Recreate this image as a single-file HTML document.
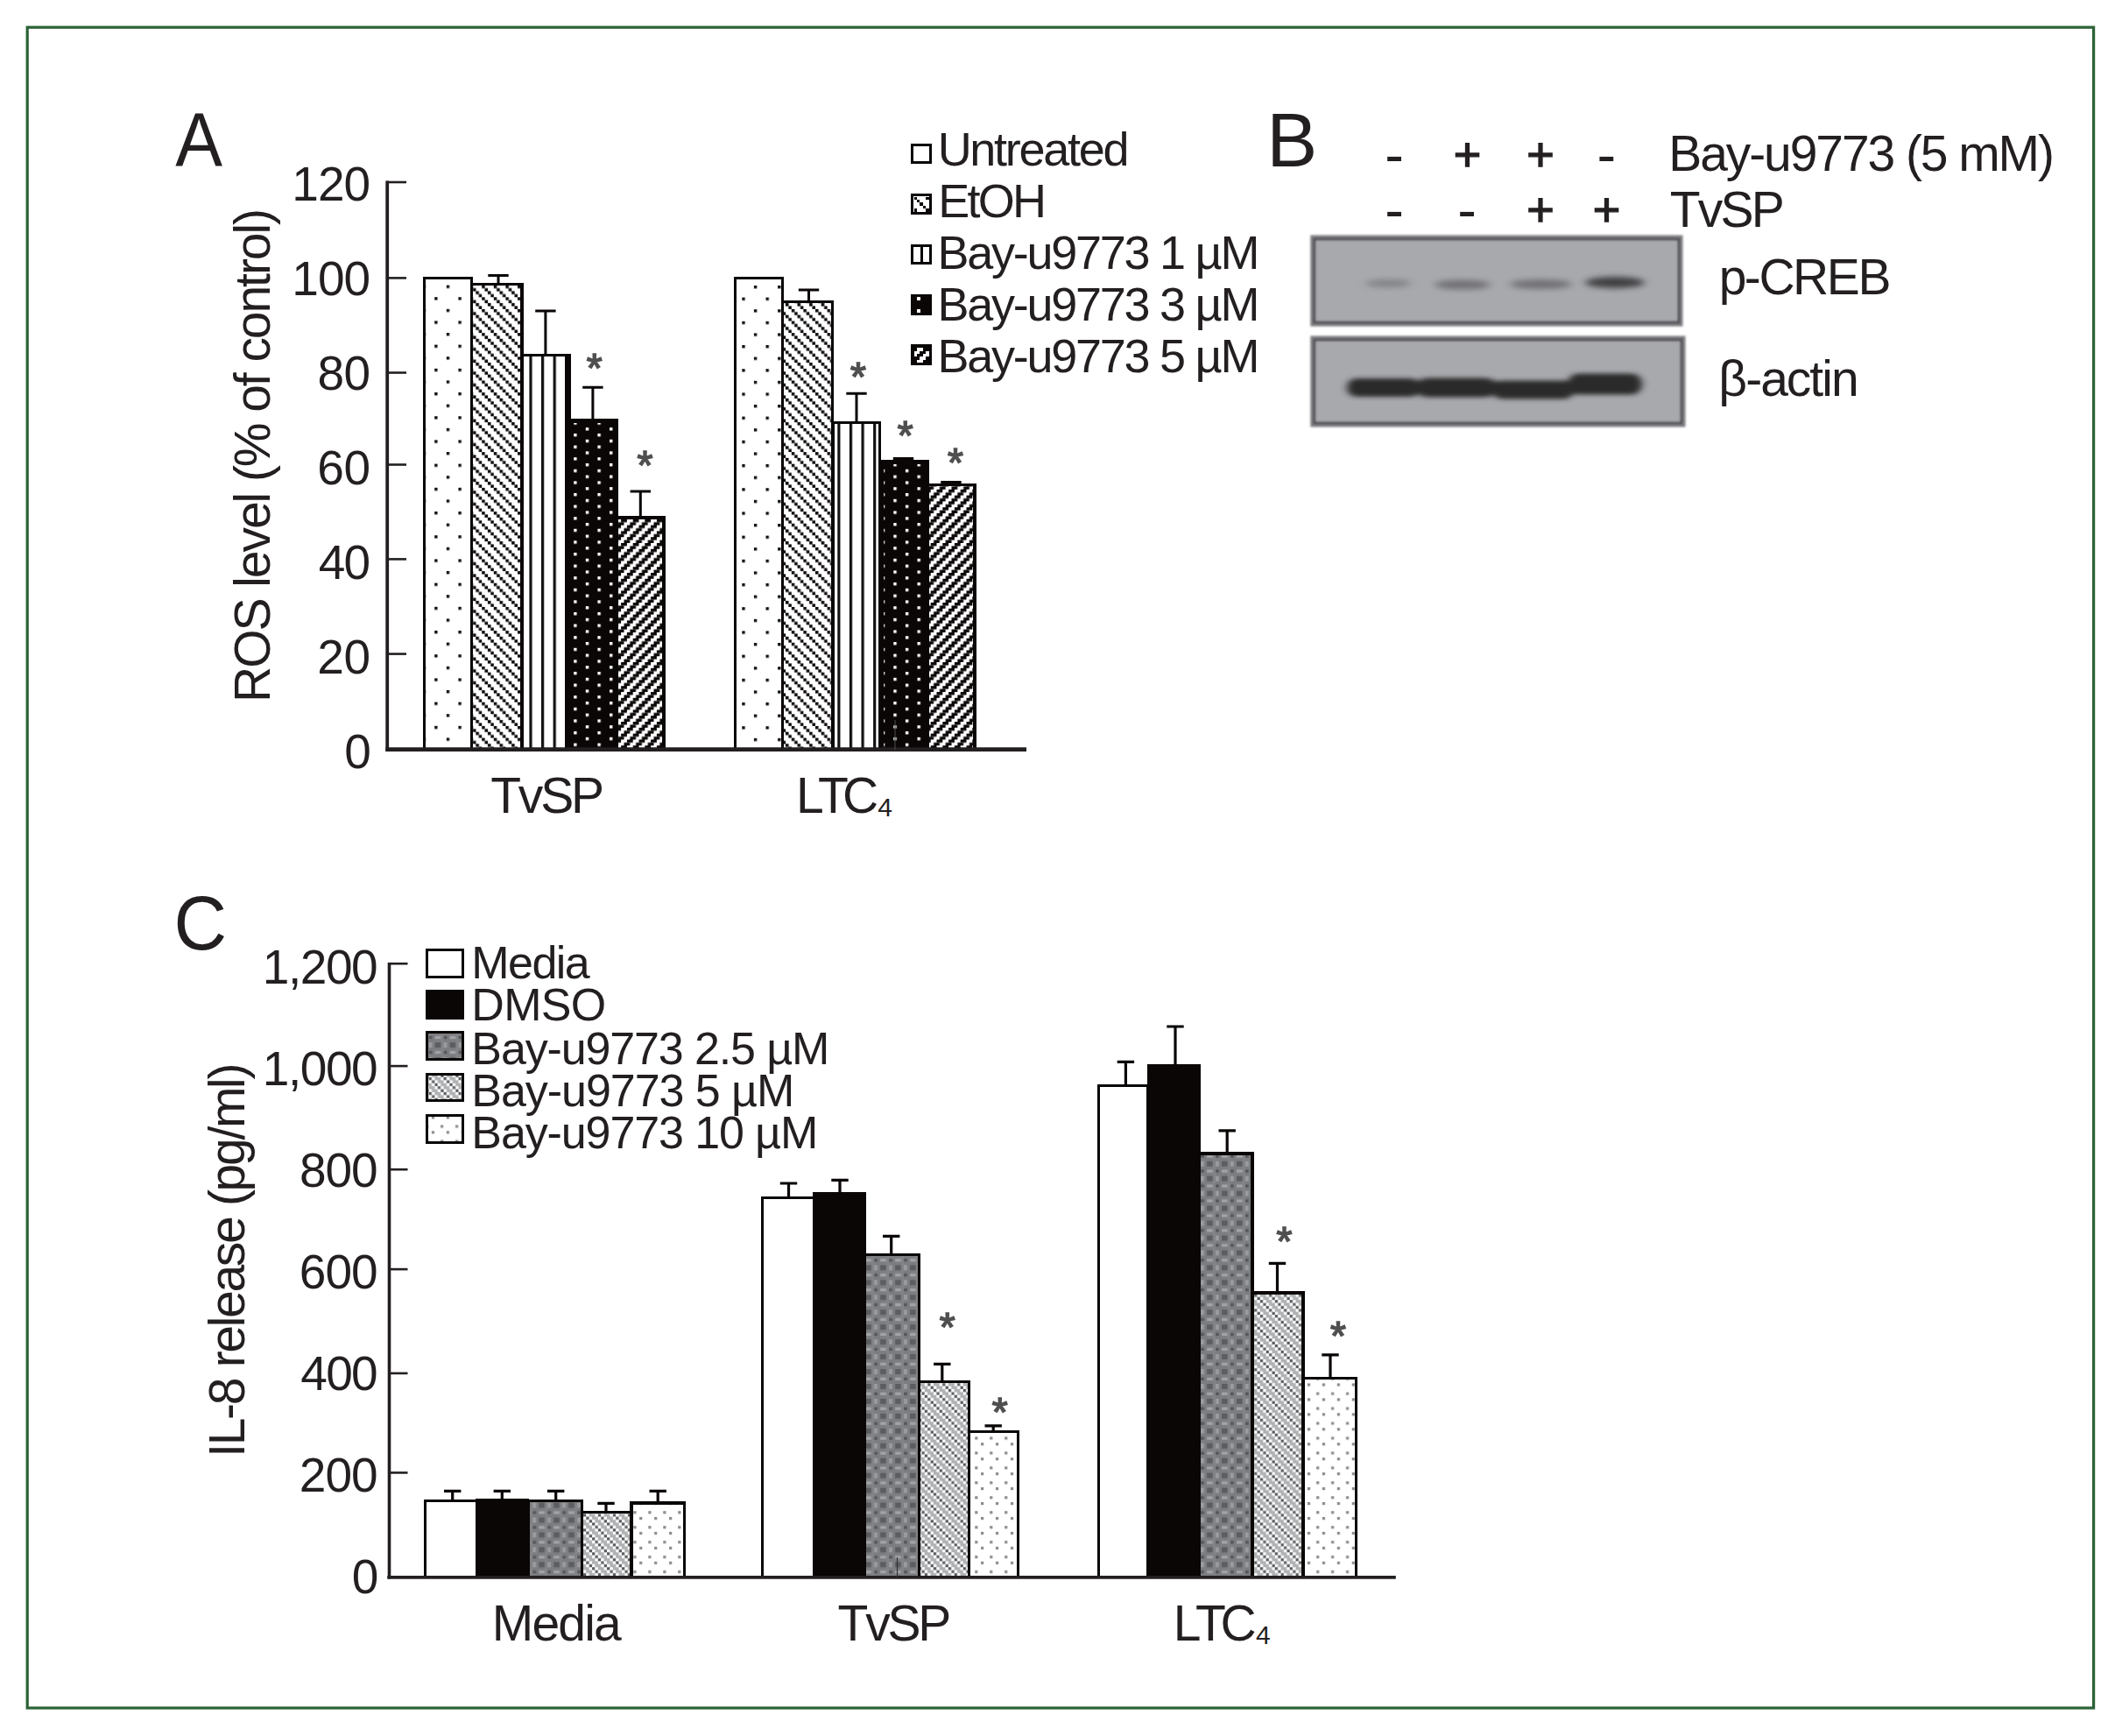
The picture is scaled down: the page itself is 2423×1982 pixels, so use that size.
<!DOCTYPE html>
<html lang="en"><head><meta charset="utf-8"><title>Figure</title>
<style>
html,body{margin:0;padding:0;background:#fff;}
svg{display:block;}
text{font-family:"Liberation Sans",Arial,Helvetica,sans-serif;font-kerning:none;white-space:pre;}
</style></head><body>
<svg width="2423" height="1982" viewBox="0 0 2423 1982">
<rect width="2423" height="1982" fill="#fff"/>

<defs>
<pattern id="pDot" patternUnits="userSpaceOnUse" width="27.200" height="27.200" patternTransform="translate(496.2 339.2)">
 <rect width="27.200" height="27.200" fill="#fff"/>
 <rect x="0" y="0" width="3.4" height="3.4" fill="#111"/>
 <rect x="13.600" y="13.600" width="3.4" height="3.4" fill="#111"/>
 <rect x="13.600" y="-13.600" width="3.4" height="3.4" fill="#111"/>
</pattern>
<pattern id="pDown" patternUnits="userSpaceOnUse" width="13.600" height="13.600" patternTransform="translate(550.2 325.7)">
 <rect width="13.600" height="13.600" fill="#fff"/>
 <rect x="-0.100" y="-0.100" width="3.600" height="3.600" fill="#0d0909"/><rect x="3.300" y="3.300" width="3.600" height="3.600" fill="#0d0909"/><rect x="6.700" y="6.700" width="3.600" height="3.600" fill="#0d0909"/><rect x="10.100" y="10.100" width="3.600" height="3.600" fill="#0d0909"/>
</pattern>
<pattern id="pVert" patternUnits="userSpaceOnUse" width="13.600" height="20" patternTransform="translate(604.4 0)">
 <rect width="13.600" height="20" fill="#fff"/>
 <rect x="0" y="0" width="3.2" height="20" fill="#111"/>
</pattern>
<pattern id="pBlkDot" patternUnits="userSpaceOnUse" width="27.200" height="13.600" patternTransform="translate(655.2 481.35)">
 <rect width="27.200" height="13.600" fill="#0a0606"/>
 <rect x="0" y="0" width="3.4" height="3.4" fill="#fff"/>
 <rect x="13.600" y="6.800" width="3.4" height="3.4" fill="#fff"/>
</pattern>
<pattern id="pUp" patternUnits="userSpaceOnUse" width="13.600" height="13.600" patternTransform="translate(709.1 592.8)">
 <rect width="13.600" height="13.600" fill="#fff"/>
 <rect x="0" y="0" width="6.800" height="3.450" fill="#0d0909"/>
 <rect x="10.200" y="3.400" width="3.400" height="3.450" fill="#0d0909"/><rect x="0" y="3.400" width="3.400" height="3.450" fill="#0d0909"/>
 <rect x="6.800" y="6.800" width="6.800" height="3.450" fill="#0d0909"/>
 <rect x="3.400" y="10.200" width="6.800" height="3.450" fill="#0d0909"/>
</pattern>
<pattern id="cChk" patternUnits="userSpaceOnUse" width="16.950" height="16.950" patternTransform="translate(1378.1 1512.2)">
 <rect width="16.950" height="16.950" fill="#7c7d80"/>
 <rect x="6.6" y="0" width="3.4" height="16.950" fill="#828386"/>
 <rect x="0" y="0" width="6.6" height="5.9" fill="#5c5d60"/>
 <rect x="10" y="0" width="3.7" height="5.9" fill="#9b9c9f"/>
 <rect x="0" y="9.6" width="6.6" height="3.4" fill="#a1a3a6"/>
 <rect x="10" y="9.6" width="3.7" height="3.4" fill="#55575a"/>
</pattern>
<pattern id="cHat" patternUnits="userSpaceOnUse" width="16.950" height="16.950" patternTransform="translate(1438.8 1501.1)">
 <rect width="16.950" height="16.950" fill="#b0b1b3"/>
 <rect x="0.000" y="0.000" width="3.390" height="3.390" fill="#585a5d"/><rect x="3.390" y="3.390" width="3.390" height="3.390" fill="#585a5d"/><rect x="6.780" y="6.780" width="3.390" height="3.390" fill="#585a5d"/><rect x="10.170" y="10.170" width="3.390" height="3.390" fill="#585a5d"/><rect x="13.560" y="13.560" width="3.390" height="3.390" fill="#585a5d"/>
 <rect x="3.390" y="0.000" width="3.390" height="3.390" fill="#fdfdfd"/><rect x="6.780" y="3.390" width="3.390" height="3.390" fill="#fdfdfd"/><rect x="10.170" y="6.780" width="3.390" height="3.390" fill="#fdfdfd"/><rect x="13.560" y="10.170" width="3.390" height="3.390" fill="#fdfdfd"/><rect x="0.000" y="13.560" width="3.390" height="3.390" fill="#fdfdfd"/>
 <rect x="13.560" y="0.000" width="3.390" height="3.390" fill="#fdfdfd"/><rect x="0.000" y="3.390" width="3.390" height="3.390" fill="#fdfdfd"/><rect x="3.390" y="6.780" width="3.390" height="3.390" fill="#fdfdfd"/><rect x="6.780" y="10.170" width="3.390" height="3.390" fill="#fdfdfd"/><rect x="10.170" y="13.560" width="3.390" height="3.390" fill="#fdfdfd"/>
</pattern>
<pattern id="cDot" patternUnits="userSpaceOnUse" width="16.950" height="16.950" patternTransform="translate(1492.9 1579.4)">
 <rect width="16.950" height="16.950" fill="#fff"/>
 <rect x="0" y="0" width="3.2" height="3.2" fill="#8c8c8e"/>
 <rect x="10.170" y="10.170" width="3.2" height="3.2" fill="#8c8c8e"/>
</pattern>
<pattern id="pDot2" patternUnits="userSpaceOnUse" width="27.200" height="27.200" patternTransform="translate(847.3 339.6)">
 <rect width="27.200" height="27.200" fill="#fff"/>
 <rect x="0" y="0" width="3.4" height="3.4" fill="#111"/>
 <rect x="13.600" y="13.600" width="3.4" height="3.4" fill="#111"/>
 <rect x="13.600" y="-13.600" width="3.4" height="3.4" fill="#111"/>
</pattern>
<pattern id="pVert2" patternUnits="userSpaceOnUse" width="13.600" height="20" patternTransform="translate(956.3 0)">
 <rect width="13.600" height="20" fill="#fff"/>
 <rect x="0" y="0" width="3.2" height="20" fill="#111"/>
</pattern>
<pattern id="pBlkDot2" patternUnits="userSpaceOnUse" width="27.200" height="13.600" patternTransform="translate(1020.3 529.0)">
 <rect width="27.200" height="13.600" fill="#0a0606"/>
 <rect x="0" y="0" width="3.4" height="3.4" fill="#fff"/>
 <rect x="13.600" y="6.800" width="3.4" height="3.4" fill="#fff"/>
</pattern>
<filter id="blur1" x="-20%" y="-50%" width="140%" height="200%"><feGaussianBlur stdDeviation="5 3"/></filter>
<filter id="blur2" x="-20%" y="-50%" width="140%" height="200%"><feGaussianBlur stdDeviation="4 2.5"/></filter>
<filter id="blurS" x="-30%" y="-30%" width="160%" height="160%"><feGaussianBlur stdDeviation="0.7"/></filter>
<filter id="blurB" x="-5%" y="-5%" width="110%" height="110%"><feGaussianBlur stdDeviation="0.8"/></filter>
</defs>

<rect x="31.2" y="31.2" width="2359.4" height="1918.8" fill="none" stroke="#2b6236" stroke-width="3.2"/>
<g shape-rendering="crispEdges">
<rect x="484.40" y="317.40" width="54.10" height="538.00" fill="url(#pDot)" stroke="#0a0606" stroke-width="3.2"/>
<rect x="538.50" y="324.60" width="57.50" height="530.80" fill="url(#pDown)" stroke="#0a0606" stroke-width="3.2"/>
<rect x="596.00" y="405.50" width="51.10" height="449.90" fill="url(#pVert)" stroke="#0a0606" stroke-width="3.2"/>
<rect x="647.10" y="479.60" width="57.10" height="375.80" fill="url(#pBlkDot)" stroke="#0a0606" stroke-width="3.2"/>
<rect x="704.20" y="591.00" width="53.80" height="264.40" fill="url(#pUp)" stroke="#0a0606" stroke-width="3.2"/>
<rect x="645.5" y="403.90" width="6" height="76.10" fill="#0a0606"/>
<rect x="645.50" y="478.00" width="60.30" height="5" fill="#0a0606"/>
<rect x="645.50" y="478.00" width="6" height="377.80" fill="#0a0606"/>
<rect x="700.20" y="478.00" width="5.6" height="377.80" fill="#0a0606"/>
<rect x="839.30" y="317.40" width="54.00" height="538.00" fill="url(#pDot2)" stroke="#0a0606" stroke-width="3.2"/>
<rect x="893.30" y="344.60" width="57.60" height="510.80" fill="url(#pDown)" stroke="#0a0606" stroke-width="3.2"/>
<rect x="950.90" y="482.80" width="53.60" height="372.60" fill="url(#pVert2)" stroke="#0a0606" stroke-width="3.2"/>
<rect x="1004.50" y="526.60" width="54.60" height="328.80" fill="url(#pBlkDot2)" stroke="#0a0606" stroke-width="3.2"/>
<rect x="1059.10" y="553.50" width="53.90" height="301.90" fill="url(#pUp)" stroke="#0a0606" stroke-width="3.2"/>
<rect x="1002.90" y="525.00" width="57.80" height="5" fill="#0a0606"/>
<rect x="1002.90" y="525.00" width="6" height="330.80" fill="#0a0606"/>
<rect x="1055.10" y="525.00" width="5.6" height="330.80" fill="#0a0606"/>
</g>
<path d="M557.30 314.40H580.70M569.00 314.40V323.00" stroke="#0a0606" stroke-width="3.0" fill="none"/>
<path d="M611.20 354.90H634.60M622.90 354.90V404.00" stroke="#0a0606" stroke-width="3.0" fill="none"/>
<path d="M665.20 442.20H688.60M676.90 442.20V478.00" stroke="#0a0606" stroke-width="3.0" fill="none"/>
<path d="M719.60 560.90H743.00M731.30 560.90V590.00" stroke="#0a0606" stroke-width="3.0" fill="none"/>
<path d="M911.80 331.00H935.20M923.50 331.00V343.00" stroke="#0a0606" stroke-width="3.0" fill="none"/>
<path d="M966.30 449.20H989.70M978.00 449.20V481.00" stroke="#0a0606" stroke-width="3.0" fill="none"/>
<path d="M1019.80 523.60H1043.20M1031.50 523.60V525.00" stroke="#0a0606" stroke-width="3.0" fill="none"/>
<path d="M1074.30 550.50H1097.70M1086.00 550.50V552.00" stroke="#0a0606" stroke-width="3.0" fill="none"/>
<path d="M442.2 206.5V857.7" stroke="#231f20" stroke-width="3.8" fill="none"/>
<path d="M440.3 855.6H1172" stroke="#231f20" stroke-width="4.6" fill="none"/>
<path d="M441 746.60H464" stroke="#231f20" stroke-width="2.6" fill="none"/>
<path d="M441 638.40H464" stroke="#231f20" stroke-width="2.6" fill="none"/>
<path d="M441 530.50H464" stroke="#231f20" stroke-width="2.6" fill="none"/>
<path d="M441 425.50H464" stroke="#231f20" stroke-width="2.6" fill="none"/>
<path d="M441 317.40H464" stroke="#231f20" stroke-width="2.6" fill="none"/>
<path d="M441 208.00H464" stroke="#231f20" stroke-width="2.6" fill="none"/>
<path d="M1022 822V856" stroke="#444" stroke-width="1.2" fill="none"/>
<text x="393.15" y="876.63" font-size="55" letter-spacing="0.000" fill="#231f20" >0</text>
<text x="362.23" y="768.68" font-size="55" letter-spacing="-0.262" fill="#231f20" >20</text>
<text x="363.74" y="660.73" font-size="55" letter-spacing="-1.766" fill="#231f20" >40</text>
<text x="362.21" y="552.78" font-size="55" letter-spacing="-0.235" fill="#231f20" >60</text>
<text x="362.61" y="444.83" font-size="55" letter-spacing="-0.638" fill="#231f20" >80</text>
<text x="333.31" y="336.88" font-size="55" letter-spacing="-0.964" fill="#231f20" >100</text>
<text x="333.31" y="228.93" font-size="55" letter-spacing="-0.964" fill="#231f20" >120</text>
<text transform="rotate(-90)" x="-801.88" y="308.00" font-size="57" letter-spacing="-2.063" fill="#231f20">ROS level (% of control)</text>
<text x="560.22" y="928.40" font-size="57" letter-spacing="-3.190" fill="#231f20" >TvSP</text>
<text x="909.02" y="928.40" font-size="57" letter-spacing="-6.768" fill="#231f20" >LTC</text>
<text x="1002.31" y="931.60" font-size="30" letter-spacing="0.000" fill="#231f20" >4</text>
<g shape-rendering="crispEdges">
<rect x="1041.70" y="165.40" width="20.70" height="20.40" fill="#fff" stroke="#0a0606" stroke-width="3.2"/>
<rect x="1041.70" y="222.80" width="20.70" height="20.40" fill="#fff" stroke="#0a0606" stroke-width="3.2"/>
<rect x="1041.70" y="280.30" width="20.70" height="20.40" fill="#fff" stroke="#0a0606" stroke-width="3.2"/>
<rect x="1041.70" y="337.50" width="20.70" height="20.40" fill="#fff" stroke="#0a0606" stroke-width="3.2"/>
<rect x="1041.70" y="394.90" width="20.70" height="20.40" fill="#fff" stroke="#0a0606" stroke-width="3.2"/>
<rect x="1043.50" y="224.50" width="3.40" height="3.40" fill="#0a0606"/>
<rect x="1046.90" y="227.90" width="3.40" height="3.40" fill="#0a0606"/>
<rect x="1050.30" y="231.30" width="3.40" height="3.40" fill="#0a0606"/>
<rect x="1053.70" y="234.70" width="3.40" height="3.40" fill="#0a0606"/>
<rect x="1057.10" y="238.10" width="3.40" height="3.40" fill="#0a0606"/>
<rect x="1057.10" y="224.50" width="3.40" height="3.40" fill="#0a0606"/>
<rect x="1043.50" y="238.10" width="3.40" height="3.40" fill="#0a0606"/>
<rect x="1050.50" y="278.70" width="3.3" height="23.4" fill="#0a0606"/>
<rect x="1040.1" y="335.9" width="23.90000000000009" height="23.7" fill="#0a0606"/>
<rect x="1046.9" y="339.4" width="3.6" height="3.6" fill="#fff"/><rect x="1046.9" y="353.1" width="3.6" height="3.6" fill="#fff"/>
<rect x="1040.1" y="393.3" width="23.90000000000009" height="23.8" fill="#0a0606"/>
<rect x="1047.00" y="397.20" width="3.40" height="3.40" fill="#fff"/>
<rect x="1050.40" y="397.20" width="3.40" height="3.40" fill="#fff"/>
<rect x="1043.60" y="400.60" width="3.40" height="3.40" fill="#fff"/>
<rect x="1047.00" y="400.60" width="3.40" height="3.40" fill="#fff"/>
<rect x="1057.20" y="400.60" width="3.40" height="3.40" fill="#fff"/>
<rect x="1043.60" y="404.00" width="3.40" height="3.40" fill="#fff"/>
<rect x="1053.80" y="404.00" width="3.40" height="3.40" fill="#fff"/>
<rect x="1057.20" y="404.00" width="3.40" height="3.40" fill="#fff"/>
<rect x="1050.40" y="407.40" width="3.40" height="3.40" fill="#fff"/>
<rect x="1053.80" y="407.40" width="3.40" height="3.40" fill="#fff"/>
<rect x="1047.00" y="410.80" width="3.40" height="3.40" fill="#fff"/>
<rect x="1050.40" y="410.80" width="3.40" height="3.40" fill="#fff"/>
</g>
<text x="1070.63" y="188.70" font-size="54" letter-spacing="-2.287" fill="#231f20" >Untreated</text>
<text x="1071.17" y="247.60" font-size="54" letter-spacing="-2.729" fill="#231f20" >EtOH</text>
<text x="1070.57" y="306.90" font-size="54" letter-spacing="-2.267" fill="#231f20" >Bay-u9773 1 µM</text>
<text x="1070.57" y="365.70" font-size="54" letter-spacing="-2.267" fill="#231f20" >Bay-u9773 3 µM</text>
<text x="1070.57" y="425.00" font-size="54" letter-spacing="-2.267" fill="#231f20" >Bay-u9773 5 µM</text>
<text x="669.84" y="435.92" font-size="46" fill="#505050" filter="url(#blurS)" stroke="#505050" stroke-width="1.6">*</text>
<text x="727.54" y="546.87" font-size="46" fill="#505050" filter="url(#blurS)" stroke="#505050" stroke-width="1.6">*</text>
<text x="971.04" y="446.07" font-size="46" fill="#505050" filter="url(#blurS)" stroke="#505050" stroke-width="1.6">*</text>
<text x="1024.74" y="513.07" font-size="46" fill="#505050" filter="url(#blurS)" stroke="#505050" stroke-width="1.6">*</text>
<text x="1082.04" y="543.57" font-size="46" fill="#505050" filter="url(#blurS)" stroke="#505050" stroke-width="1.6">*</text>
<text x="200.2" y="190" font-size="87" fill="#231f20" textLength="53.8" lengthAdjust="spacingAndGlyphs">A</text>
<text x="1446.16" y="190.00" font-size="87" letter-spacing="0.000" fill="#231f20" >B</text>
<text x="198.5" y="1084.1" font-size="87" fill="#231f20" textLength="60.6" lengthAdjust="spacingAndGlyphs">C</text>
<text x="1659.75" y="194.66" font-size="54" fill="#231f20" stroke="#231f20" stroke-width="1.4">+</text>
<text x="1743.25" y="194.66" font-size="54" fill="#231f20" stroke="#231f20" stroke-width="1.4">+</text>
<text x="1743.25" y="257.56" font-size="54" fill="#231f20" stroke="#231f20" stroke-width="1.4">+</text>
<text x="1818.75" y="257.56" font-size="54" fill="#231f20" stroke="#231f20" stroke-width="1.4">+</text>
<text x="1581.18" y="198.77" font-size="65" fill="#231f20" >-</text>
<text x="1823.38" y="198.77" font-size="65" fill="#231f20" >-</text>
<text x="1581.18" y="261.67" font-size="65" fill="#231f20" >-</text>
<text x="1664.18" y="261.67" font-size="65" fill="#231f20" >-</text>
<text x="1905.22" y="195.40" font-size="57" letter-spacing="-2.086" fill="#231f20" >Bay-u9773 (5 mM)</text>
<text x="1906.82" y="258.80" font-size="57" letter-spacing="-2.790" fill="#231f20" >TvSP</text>
<text x="1962.63" y="335.90" font-size="57" letter-spacing="-2.453" fill="#231f20" >p-CREB</text>
<text x="1962.35" y="451.70" font-size="57" letter-spacing="-1.986" fill="#231f20" >β-actin</text>
<g filter="url(#blurB)"><rect x="1497.8" y="270.0" width="422.20000000000005" height="101.10000000000002" fill="#a8a9ad" stroke="#7d7d82" stroke-width="3"/><rect x="1500.8" y="273.0" width="416.20000000000005" height="95.10000000000002" fill="none" stroke="#505053" stroke-width="3"/></g>
<g filter="url(#blurB)"><rect x="1497.8" y="385.0" width="425.20000000000005" height="101.0" fill="#a8a9ad" stroke="#7d7d82" stroke-width="3"/><rect x="1500.8" y="388.0" width="419.20000000000005" height="95.0" fill="none" stroke="#505053" stroke-width="3"/></g>
<ellipse cx="1585.25" cy="323.5" rx="26.25" ry="4.5" fill="#77777b" opacity="0.75" filter="url(#blur1)"/>
<ellipse cx="1670.0" cy="325" rx="32.0" ry="5.5" fill="#68686c" opacity="0.85" filter="url(#blur1)"/>
<ellipse cx="1759.5" cy="324.5" rx="35.5" ry="5.5" fill="#68686c" opacity="0.85" filter="url(#blur1)"/>
<ellipse cx="1844.0" cy="322.5" rx="34.0" ry="6.5" fill="#3a3a3d" opacity="0.95" filter="url(#blur1)"/>
<g filter="url(#blur2)" fill="#29292b">
<rect x="1538" y="432.0" width="84" height="21" rx="10.5" ry="10.5"/>
<rect x="1618" y="431.5" width="90" height="22" rx="11.0" ry="11.0"/>
<rect x="1704" y="434.5" width="93" height="21" rx="10.5" ry="10.5"/>
<rect x="1790" y="426.5" width="85" height="24" rx="12.0" ry="12.0"/>
<rect x="1560" y="435" width="290" height="15"/>
</g>
<g shape-rendering="crispEdges">
<rect x="485.50" y="1713.40" width="58.70" height="87.20" fill="#fff" stroke="#0a0606" stroke-width="3.3"/>
<rect x="543.20" y="1711.00" width="60.90" height="90.60" fill="#0a0606"/>
<rect x="602.95" y="1713.60" width="61.55" height="87.00" fill="url(#cChk)" stroke="#0a0606" stroke-width="3.3"/>
<rect x="664.50" y="1726.50" width="56.50" height="74.10" fill="url(#cHat)" stroke="#0a0606" stroke-width="3.3"/>
<rect x="721.00" y="1716.00" width="60.70" height="84.60" fill="url(#cDot)" stroke="#0a0606" stroke-width="3.3"/>
<rect x="870.30" y="1367.80" width="59.00" height="432.80" fill="#fff" stroke="#0a0606" stroke-width="3.3"/>
<rect x="928.30" y="1360.50" width="60.20" height="441.10" fill="#0a0606"/>
<rect x="987.35" y="1432.60" width="62.15" height="368.00" fill="url(#cChk)" stroke="#0a0606" stroke-width="3.3"/>
<rect x="1049.50" y="1577.60" width="57.20" height="223.00" fill="url(#cHat)" stroke="#0a0606" stroke-width="3.3"/>
<rect x="1106.70" y="1634.30" width="56.10" height="166.30" fill="url(#cDot)" stroke="#0a0606" stroke-width="3.3"/>
<rect x="1254.80" y="1239.60" width="56.00" height="561.00" fill="#fff" stroke="#0a0606" stroke-width="3.3"/>
<rect x="1309.80" y="1214.60" width="61.10" height="587.00" fill="#0a0606"/>
<rect x="1369.75" y="1316.90" width="60.35" height="483.70" fill="url(#cChk)" stroke="#0a0606" stroke-width="3.3"/>
<rect x="1430.10" y="1476.00" width="57.80" height="324.60" fill="url(#cHat)" stroke="#0a0606" stroke-width="3.3"/>
<rect x="1487.90" y="1573.60" width="60.60" height="227.00" fill="url(#cDot)" stroke="#0a0606" stroke-width="3.3"/>
</g>
<path d="M507.00 1702.40H526.40M516.70 1702.40V1713.00" stroke="#0a0606" stroke-width="3.2" fill="none"/>
<path d="M563.60 1702.40H583.00M573.30 1702.40V1712.00" stroke="#0a0606" stroke-width="3.2" fill="none"/>
<path d="M625.00 1702.40H644.40M634.70 1702.40V1713.00" stroke="#0a0606" stroke-width="3.2" fill="none"/>
<path d="M682.30 1716.40H701.70M692.00 1716.40V1726.00" stroke="#0a0606" stroke-width="3.2" fill="none"/>
<path d="M741.50 1702.40H760.90M751.20 1702.40V1715.00" stroke="#0a0606" stroke-width="3.2" fill="none"/>
<path d="M890.80 1351.00H910.20M900.50 1351.00V1367.00" stroke="#0a0606" stroke-width="3.2" fill="none"/>
<path d="M949.30 1347.40H968.70M959.00 1347.40V1361.00" stroke="#0a0606" stroke-width="3.2" fill="none"/>
<path d="M1008.00 1411.40H1027.40M1017.70 1411.40V1432.00" stroke="#0a0606" stroke-width="3.2" fill="none"/>
<path d="M1066.10 1557.30H1085.50M1075.80 1557.30V1577.00" stroke="#0a0606" stroke-width="3.2" fill="none"/>
<path d="M1124.50 1627.80H1143.90M1134.20 1627.80V1634.00" stroke="#0a0606" stroke-width="3.2" fill="none"/>
<path d="M1275.70 1212.40H1295.10M1285.40 1212.40V1239.00" stroke="#0a0606" stroke-width="3.2" fill="none"/>
<path d="M1332.30 1172.00H1351.70M1342.00 1172.00V1215.00" stroke="#0a0606" stroke-width="3.2" fill="none"/>
<path d="M1391.50 1290.80H1410.90M1401.20 1290.80V1316.00" stroke="#0a0606" stroke-width="3.2" fill="none"/>
<path d="M1448.80 1442.40H1468.20M1458.50 1442.40V1475.00" stroke="#0a0606" stroke-width="3.2" fill="none"/>
<path d="M1509.30 1546.80H1528.70M1519.00 1546.80V1573.00" stroke="#0a0606" stroke-width="3.2" fill="none"/>
<path d="M444.5 1098.9V1802.6" stroke="#231f20" stroke-width="3.6" fill="none"/>
<path d="M442.3 1800.8H1593.8" stroke="#231f20" stroke-width="3.8" fill="none"/>
<path d="M443 1681.40H465.5" stroke="#231f20" stroke-width="2.6" fill="none"/>
<path d="M443 1567.90H465.5" stroke="#231f20" stroke-width="2.6" fill="none"/>
<path d="M443 1449.10H465.5" stroke="#231f20" stroke-width="2.6" fill="none"/>
<path d="M443 1335.20H465.5" stroke="#231f20" stroke-width="2.6" fill="none"/>
<path d="M443 1217.10H465.5" stroke="#231f20" stroke-width="2.6" fill="none"/>
<path d="M443 1100.20H465.5" stroke="#231f20" stroke-width="2.6" fill="none"/>
<path d="M1024.5 1778V1801" stroke="#333" stroke-width="1.2" fill="none"/>
<text x="401.65" y="1819.23" font-size="55" letter-spacing="0.000" fill="#231f20" >0</text>
<text x="341.73" y="1703.13" font-size="55" letter-spacing="-0.925" fill="#231f20" >200</text>
<text x="343.24" y="1587.03" font-size="55" letter-spacing="-1.677" fill="#231f20" >400</text>
<text x="341.71" y="1470.93" font-size="55" letter-spacing="-0.912" fill="#231f20" >600</text>
<text x="342.11" y="1354.83" font-size="55" letter-spacing="-1.113" fill="#231f20" >800</text>
<text x="299.81" y="1238.73" font-size="55" letter-spacing="-1.449" fill="#231f20" >1,000</text>
<text x="299.81" y="1122.63" font-size="55" letter-spacing="-1.449" fill="#231f20" >1,200</text>
<text transform="rotate(-90)" x="-1663.86" y="278.80" font-size="57" letter-spacing="-2.310" fill="#231f20">IL-8 release (pg/ml)</text>
<text x="561.82" y="1873.20" font-size="57" letter-spacing="-1.843" fill="#231f20" >Media</text>
<text x="956.52" y="1873.00" font-size="57" letter-spacing="-3.190" fill="#231f20" >TvSP</text>
<text x="1339.72" y="1872.60" font-size="57" letter-spacing="-6.368" fill="#231f20" >LTC</text>
<text x="1433.91" y="1876.70" font-size="30" letter-spacing="0.000" fill="#231f20" >4</text>
<g shape-rendering="crispEdges">
<rect x="487.5" y="1084.40" width="41.0" height="30.70" fill="#fff" stroke="#0a0606" stroke-width="3"/>
<rect x="487.5" y="1131.50" width="41.0" height="30.70" fill="#0a0606" stroke="#0a0606" stroke-width="3"/>
<rect x="487.5" y="1178.50" width="41.0" height="30.80" fill="url(#cChk)" stroke="#0a0606" stroke-width="3"/>
<rect x="487.5" y="1226.50" width="41.0" height="30.00" fill="url(#cHat)" stroke="#0a0606" stroke-width="3"/>
<rect x="487.5" y="1273.50" width="41.0" height="30.50" fill="url(#cDot)" stroke="#0a0606" stroke-width="3"/>
</g>
<text x="538.33" y="1117.30" font-size="52" letter-spacing="-1.541" fill="#231f20" >Media</text>
<text x="538.33" y="1165.30" font-size="52" letter-spacing="-0.749" fill="#231f20" >DMSO</text>
<text x="538.33" y="1215.00" font-size="52" letter-spacing="-1.136" fill="#231f20" >Bay-u9773 2.5 µM</text>
<text x="538.33" y="1262.60" font-size="52" letter-spacing="-1.052" fill="#231f20" >Bay-u9773 5 µM</text>
<text x="538.33" y="1311.00" font-size="52" letter-spacing="-1.114" fill="#231f20" >Bay-u9773 10 µM</text>
<text x="1072.64" y="1530.57" font-size="46" fill="#505050" filter="url(#blurS)" stroke="#505050" stroke-width="1.6">*</text>
<text x="1132.84" y="1628.42" font-size="46" fill="#505050" filter="url(#blurS)" stroke="#505050" stroke-width="1.6">*</text>
<text x="1457.44" y="1432.72" font-size="46" fill="#505050" filter="url(#blurS)" stroke="#505050" stroke-width="1.6">*</text>
<text x="1518.94" y="1540.57" font-size="46" fill="#505050" filter="url(#blurS)" stroke="#505050" stroke-width="1.6">*</text>
</svg>
</body></html>
